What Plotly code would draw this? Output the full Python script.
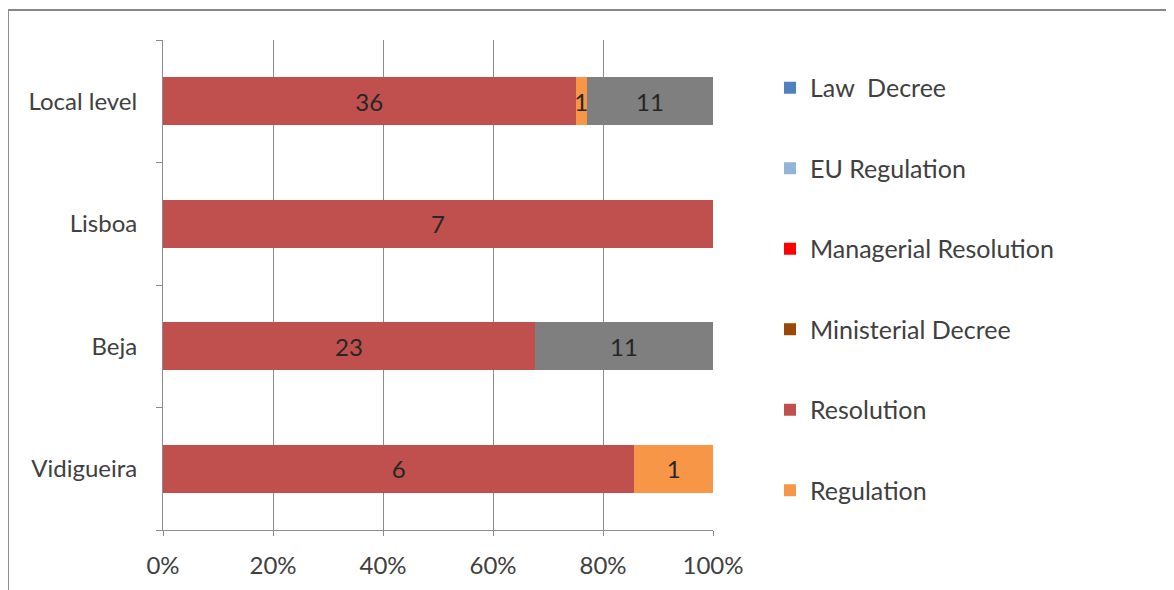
import plotly.graph_objects as go

# categories bottom -> top
places = ["Vidigueira", "Beja", "Lisboa", "Local level"]

law_decree = [0, 0, 0, 0]
eu_regulation = [0, 0, 0, 0]
managerial_resolution = [0, 0, 0, 0]
ministerial_decree = [0, 0, 0, 0]
resolution = [6, 23, 7, 36]
regulation = [1, 0, 0, 1]
other = [0, 11, 0, 11]

series = [
    ("Law  Decree", law_decree, "#4F81BD", True),
    ("EU Regulation", eu_regulation, "#95B3D7", True),
    ("Managerial Resolution", managerial_resolution, "#FF0000", True),
    ("Ministerial Decree", ministerial_decree, "#984807", True),
    ("Resolution", resolution, "#C0504D", True),
    ("Regulation", regulation, "#F79646", True),
    ("Other", other, "#7F7F7F", False),
]

FONT = "Lato, Liberation Sans, sans-serif"
FS = 24

fig = go.Figure()
for name, vals, col, leg in series:
    fig.add_trace(go.Bar(
        y=places, x=vals, orientation="h", name=name,
        marker=dict(color=col, line=dict(width=0)),
        text=[str(v) if v else "" for v in vals],
        textposition="inside", insidetextanchor="middle",
        textfont=dict(color="#262626", size=FS, family=FONT),
        showlegend=leg, legendgroup=name,
    ))

fig.update_layout(
    barmode="stack", barnorm="percent", bargap=0.61,
    width=1174, height=590,
    margin=dict(l=155, r=469, t=32, b=68),
    paper_bgcolor="white", plot_bgcolor="white",
    font=dict(family=FONT, size=FS, color="#404040"),
    legend=dict(x=1.1036, xanchor="left", y=0.949, yanchor="top",
                traceorder="grouped", tracegroupgap=45,
                font=dict(size=25, color="#404040"),
                itemwidth=30),
    uniformtext=dict(mode="show", minsize=10),
)

fig.update_xaxes(range=[0, 100], dtick=20, ticksuffix="%",
                 showgrid=True, gridcolor="#8C8C8C", gridwidth=1,
                 showline=True, linecolor="#8C8C8C", linewidth=1,
                 ticks="outside", ticklen=5, tickcolor="#8C8C8C",
                 ticklabelstandoff=9, zeroline=False)
fig.update_yaxes(showline=True, linecolor="#8C8C8C", linewidth=1,
                 ticks="outside", ticklen=6, tickcolor="#8C8C8C",
                 tickson="boundaries", ticklabelstandoff=20,
                 showgrid=False)

# outer chart border
fig.add_shape(type="rect", xref="paper", yref="paper",
              x0=-0.282, x1=1.83, y0=-0.14, y1=1.061,
              line=dict(color="#868686", width=2), layer="below")

fig.write_html("out.html")
